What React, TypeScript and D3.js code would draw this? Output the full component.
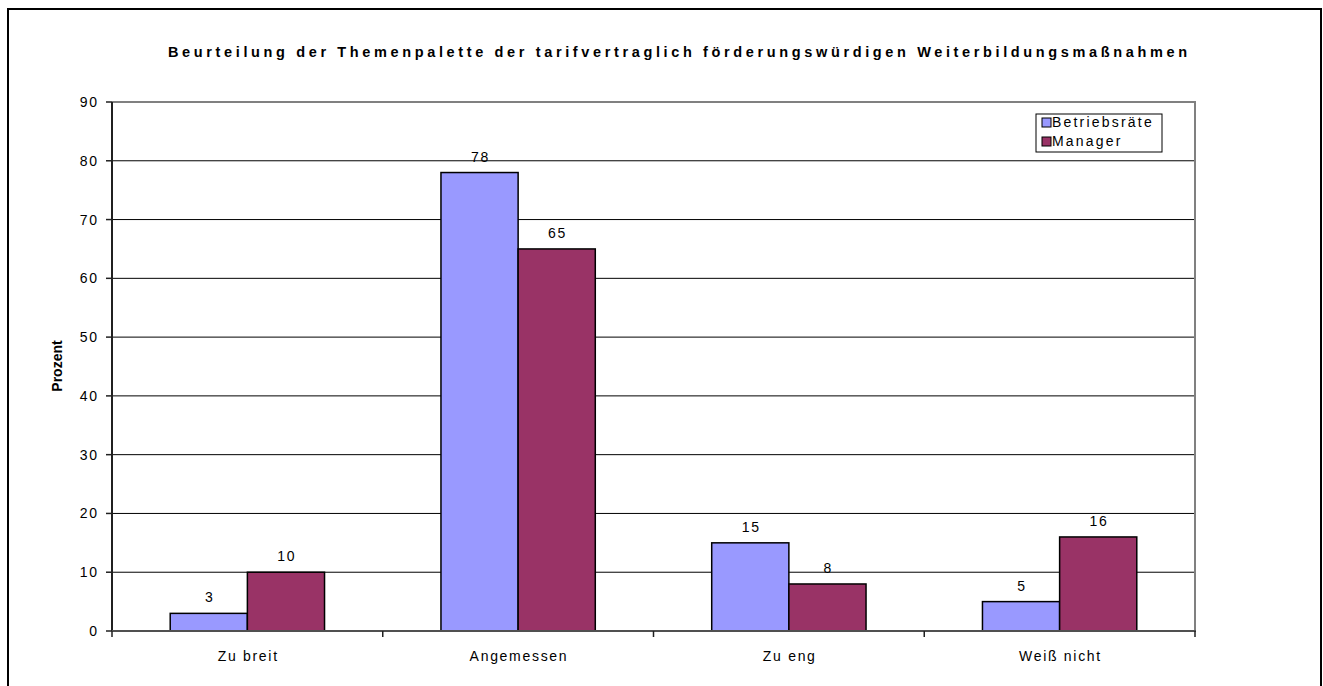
import { useEffect, useRef } from "react";
import * as d3 from "d3";

const categories = ["Zu breit", "Angemessen", "Zu eng", "Weiß nicht"];
const seriesNames = ["Betriebsräte", "Manager"];
const betriebsraete = [3, 78, 15, 5];
const manager = [10, 65, 8, 16];
const yTicks = [0, 10, 20, 30, 40, 50, 60, 70, 80, 90];
const colors = ["#9999FF", "#993366"];
const title =
  "Beurteilung der Themenpalette der tarifvertraglich förderungswürdigen Weiterbildungsmaßnahmen";

export default function App() {
  const svgRef = useRef<SVGSVGElement>(null);

  useEffect(() => {
    if (!svgRef.current) return;
    const width = 1323;
    const height = 686;
    const plot = { left: 112, right: 1195, top: 102, bottom: 631 };
    const font = "Arial, 'Liberation Sans', sans-serif";
    const ls = 1.7; // letter spacing used by the Excel-ish labels

    const svg = d3.select(svgRef.current);
    svg.selectAll("*").remove();
    svg.attr("width", width).attr("height", height);

    svg
      .append("rect")
      .attr("x", 8)
      .attr("y", 9)
      .attr("width", 1313)
      .attr("height", 700)
      .attr("fill", "white")
      .attr("stroke", "black")
      .attr("stroke-width", 2);

    // Title
    svg
      .append("text")
      .attr("x", 168)
      .attr("y", 57)
      .attr("font-family", font)
      .attr("font-size", "14.5px")
      .attr("font-weight", "bold")
      .attr("textLength", 1019)
      .attr("lengthAdjust", "spacing")
      .text(title);

    const y = d3.scaleLinear().domain([0, 90]).range([plot.bottom, plot.top]);
    const x0 = d3
      .scaleBand<string>()
      .domain(categories)
      .range([plot.left, plot.right]);
    const groupW = x0.bandwidth() * 0.57;
    const x1 = d3
      .scaleBand<string>()
      .domain(seriesNames)
      .range([0, groupW]);

    // Gridlines
    yTicks
      .filter((t) => t > 0 && t < 90)
      .forEach((t) => {
        svg
          .append("line")
          .attr("x1", plot.left)
          .attr("x2", plot.right)
          .attr("y1", y(t))
          .attr("y2", y(t))
          .attr("stroke", "black")
          .attr("stroke-width", 1);
      });

    // Plot frame (top and right gray)
    svg
      .append("path")
      .attr("d", `M${plot.left},${plot.top}H${plot.right}V${plot.bottom}`)
      .attr("fill", "none")
      .attr("stroke", "#808080")
      .attr("stroke-width", 2);

    // Bars
    const data = [betriebsraete, manager];
    categories.forEach((cat, i) => {
      const gx = x0(cat)! + (x0.bandwidth() - groupW) / 2;
      seriesNames.forEach((s, j) => {
        const v = data[j][i];
        const bx = gx + x1(s)!;
        svg
          .append("rect")
          .attr("x", bx)
          .attr("y", y(v))
          .attr("width", x1.bandwidth())
          .attr("height", y(0) - y(v))
          .attr("fill", colors[j])
          .attr("stroke", "black")
          .attr("stroke-width", 1.5);
        svg
          .append("text")
          .attr("x", bx + x1.bandwidth() / 2 + ls / 2)
          .attr("y", y(v) - 11)
          .attr("text-anchor", "middle")
          .attr("font-family", font)
          .attr("font-size", "14px")
          .attr("letter-spacing", `${ls}px`)
          .text(v);
      });
    });

    // Y axis
    svg
      .append("line")
      .attr("x1", plot.left)
      .attr("x2", plot.left)
      .attr("y1", plot.top)
      .attr("y2", plot.bottom)
      .attr("stroke", "#202020")
      .attr("stroke-width", 2);
    yTicks.forEach((t) => {
      svg
        .append("line")
        .attr("x1", plot.left - 6)
        .attr("x2", plot.left)
        .attr("y1", y(t))
        .attr("y2", y(t))
        .attr("stroke", "#202020")
        .attr("stroke-width", 1.5);
      svg
        .append("text")
        .attr("x", 97 + ls)
        .attr("y", y(t) + 5)
        .attr("text-anchor", "end")
        .attr("font-family", font)
        .attr("font-size", "14px")
        .attr("letter-spacing", `${ls}px`)
        .text(t);
    });

    // X axis
    svg
      .append("line")
      .attr("x1", plot.left)
      .attr("x2", plot.right + 1)
      .attr("y1", plot.bottom)
      .attr("y2", plot.bottom)
      .attr("stroke", "#505050")
      .attr("stroke-width", 2);
    const boundaries = categories.map((c) => x0(c)!).concat([plot.right]);
    boundaries.forEach((bx) => {
      svg
        .append("line")
        .attr("x1", bx)
        .attr("x2", bx)
        .attr("y1", plot.bottom)
        .attr("y2", plot.bottom + 6)
        .attr("stroke", "#202020")
        .attr("stroke-width", 1.5);
    });
    categories.forEach((cat) => {
      svg
        .append("text")
        .attr("x", x0(cat)! + x0.bandwidth() / 2 + ls / 2)
        .attr("y", 661)
        .attr("text-anchor", "middle")
        .attr("font-family", font)
        .attr("font-size", "14px")
        .attr("letter-spacing", `${ls}px`)
        .text(cat);
    });

    // Y label
    svg
      .append("text")
      .attr("transform", `translate(62,366) rotate(-90)`)
      .attr("text-anchor", "middle")
      .attr("font-family", font)
      .attr("font-size", "14px")
      .attr("font-weight", "bold")
      .text("Prozent");

    // Legend
    const legend = svg.append("g").attr("transform", "translate(1036,114)");
    legend
      .append("rect")
      .attr("width", 126)
      .attr("height", 38)
      .attr("fill", "white")
      .attr("stroke", "black")
      .attr("stroke-width", 1);
    seriesNames.forEach((s, j) => {
      legend
        .append("rect")
        .attr("x", 6)
        .attr("y", 4 + j * 19)
        .attr("width", 9)
        .attr("height", 9)
        .attr("fill", colors[j])
        .attr("stroke", "black")
        .attr("stroke-width", 1);
      legend
        .append("text")
        .attr("x", 16)
        .attr("y", 13 + j * 19)
        .attr("font-family", font)
        .attr("font-size", "14px")
        .attr("letter-spacing", "2.2px")
        .text(s);
    });
  }, []);

  return (
    <div style={{ position: "absolute", left: 0, top: 0 }}>
      <svg ref={svgRef} style={{ display: "block" }} />
    </div>
  );
}
